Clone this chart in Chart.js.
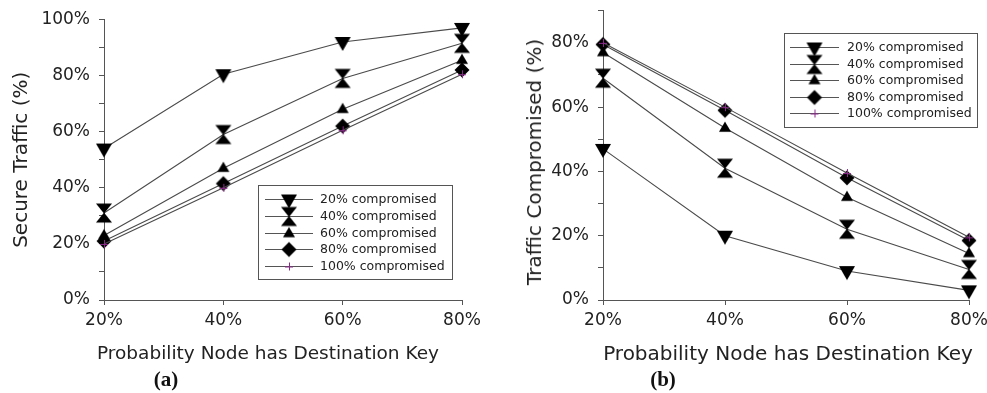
<!DOCTYPE html>
<html>
<head>
<meta charset="utf-8">
<script src="https://cdn.jsdelivr.net/npm/chart.js@4.4.1/dist/chart.umd.min.js"></script>
<style>
  html, body { margin: 0; padding: 0; background: #fff; }
  #fig { position: relative; width: 987px; height: 393px; overflow: hidden; background: #fff; }
  .panel { position: absolute; top: 0; height: 375px; }
  .xtitle { position: absolute; top: 341px; font: 18.5px "DejaVu Sans", sans-serif; color: #222; transform: translateX(-50%); white-space: nowrap; line-height: 24px; }
  .ytitle { position: absolute; font: 20px "DejaVu Sans", sans-serif; color: #222; transform: translate(-50%, -50%) rotate(-90deg); white-space: nowrap; line-height: 24px; }
  .cap { position: absolute; top: 366px; font: bold 21px "Liberation Serif", "Times New Roman", serif; color: #111; transform: translateX(-50%); white-space: nowrap; line-height: 26px; }
</style>
</head>
<body>
<div id="fig">
  <div class="panel" style="left:0; width:490px;"><canvas id="chartA"></canvas></div>
  <div class="panel" style="left:490px; width:497px;"><canvas id="chartB"></canvas></div>
  <div class="xtitle" style="left:268px;">Probability Node has Destination Key</div>
  <div class="xtitle" style="left:788px; font-size:20px;">Probability Node has Destination Key</div>
  <div class="ytitle" style="left:534px; top:162px;">Traffic Compromised (%)</div>
  <div class="cap" style="left:166px;">(a)</div>
  <div class="cap" style="left:663px;">(b)</div>
</div>
<script>
// Probability that a node holds the destination key (x axis)
const probLabels = ['20%', '40%', '60%', '80%'];

// Fraction of nodes compromised (one line per level)
const seriesNames = ['20% compromised', '40% compromised', '60% compromised', '80% compromised', '100% compromised'];

// (a) Secure traffic (%)
const secure20  = [54, 80.5, 92, 97];
const secure40  = [31, 59, 79, 91.5];
const secure60  = [23, 47, 68, 85.5];
const secure80  = [21, 41.5, 62, 82];
const secure100 = [20, 40, 60.5, 80.5];

// (b) Traffic compromised (%)
const comp20  = [47, 20, 9, 3];
const comp40  = [69, 41, 22, 9.5];
const comp60  = [77, 53.5, 32, 14.5];
const comp80  = [79.5, 59, 38, 18.5];
const comp100 = [80, 60, 39.5, 19.5];

// Y tick marks every 10%, labels every 20%
const yTickStep = 10;
const yLabelEvery = 20;

// ---- point markers drawn onto small canvases ----
function markerCanvas(size, draw) {
  const c = document.createElement('canvas');
  c.width = size; c.height = size;
  const g = c.getContext('2d');
  g.translate(size / 2, size / 2);
  draw(g);
  return c;
}
const markTriDown = markerCanvas(20, g => {
  g.fillStyle = '#000';
  g.beginPath(); g.moveTo(-8, -5); g.lineTo(8, -5); g.lineTo(0, 9); g.closePath(); g.fill();
});
const markHourglass = markerCanvas(22, g => {
  g.fillStyle = '#000';
  g.beginPath(); g.moveTo(-8, -9.5); g.lineTo(8, -9.5); g.lineTo(0, 0.6); g.closePath(); g.fill();
  g.beginPath(); g.moveTo(-8, 9.5); g.lineTo(8, 9.5); g.lineTo(0, -0.6); g.closePath(); g.fill();
});
const markTriUp = markerCanvas(16, g => {
  g.fillStyle = '#000';
  g.beginPath(); g.moveTo(-6, 3.8); g.lineTo(6, 3.8); g.lineTo(0, -6.6); g.closePath(); g.fill();
});
const markDiamond = markerCanvas(18, g => {
  g.fillStyle = '#000';
  g.beginPath(); g.moveTo(0, -7.5); g.lineTo(7.5, 0); g.lineTo(0, 7.5); g.lineTo(-7.5, 0); g.closePath(); g.fill();
});
const markCross = markerCanvas(12, g => {
  g.strokeStyle = '#8a2a8a'; g.lineWidth = 1;
  g.beginPath(); g.moveTo(-4, 0.5); g.lineTo(4, 0.5); g.moveTo(0.5, -4); g.lineTo(0.5, 4); g.stroke();
});
const markers = [markTriDown, markHourglass, markTriUp, markDiamond, markCross];

// ---- boxed legend: line sample with marker, then label ----
const boxLegend = {
  id: 'boxLegend',
  afterDatasetsDraw(chart, args, o) {
    if (!o || !o.w) return;
    const ctx = chart.ctx;
    ctx.save();
    ctx.fillStyle = '#fff';
    ctx.fillRect(o.x, o.y, o.w, o.h);
    ctx.strokeStyle = '#555';
    ctx.lineWidth = 1;
    ctx.strokeRect(o.x + 0.5, o.y + 0.5, o.w, o.h);
    ctx.font = '12.5px "DejaVu Sans", sans-serif';
    ctx.textBaseline = 'middle';
    chart.data.datasets.forEach((ds, i) => {
      const y = Math.round(o.row0 + i * o.gap);
      ctx.strokeStyle = '#555';
      ctx.beginPath();
      ctx.moveTo(o.lineX0, y + 0.5);
      ctx.lineTo(o.lineX1, y + 0.5);
      ctx.stroke();
      const m = ds.pointStyle;
      ctx.drawImage(m, (o.lineX0 + o.lineX1) / 2 - m.width / 2, y + 0.5 - m.height / 2);
      ctx.fillStyle = '#222';
      ctx.fillText(ds.label, o.textX, y + 1);
    });
    ctx.restore();
  }
};

function makeChart(canvasId, values, cfg) {
  const datasets = values.map((vals, i) => ({
    label: seriesNames[i],
    data: vals,
    borderColor: '#4a4a4a',
    borderWidth: 1.1,
    pointStyle: markers[i],
    pointRadius: 6,
    pointHoverRadius: 6,
    tension: 0,
    fill: false,
    clip: false,
    order: values.length - 1 - i
  }));
  return new Chart(document.getElementById(canvasId), {
    type: 'line',
    data: { labels: probLabels, datasets },
    plugins: [boxLegend],
    options: {
      responsive: true,
      maintainAspectRatio: false,
      animation: false,
      events: [],
      layout: { padding: { left: 0, top: cfg.top, right: cfg.right, bottom: 5 } },
      plugins: {
        legend: { display: false },
        tooltip: { enabled: false },
        boxLegend: cfg.legend
      },
      scales: {
        x: {
          type: 'category',
          offset: false,
          grid: { display: true, drawOnChartArea: false, drawTicks: true, tickLength: 5, color: '#555' },
          border: { display: true, color: '#555', width: 1 },
          ticks: { color: '#222', font: { family: 'DejaVu Sans', size: 17 }, padding: 5, maxRotation: 0, autoSkip: false },
          afterFit(s) { s.height = 70; s.paddingLeft = 0; s.paddingRight = 0; }
        },
        y: {
          min: 0,
          max: cfg.ymax,
          grid: { display: true, drawOnChartArea: false, drawTicks: true, tickLength: 5, color: '#555' },
          border: { display: true, color: '#555', width: 1 },
          ticks: {
            stepSize: yTickStep,
            color: '#222',
            padding: 9,
            font: { family: 'DejaVu Sans', size: 17 },
            callback: v => (v % yLabelEvery === 0 ? v + '%' : '')
          },
          title: { display: !!cfg.yTitle, text: cfg.yTitle || '', color: '#222',
                   font: { family: 'DejaVu Sans', size: 20 }, padding: { top: cfg.yTitlePad, bottom: 0 } },
          afterFit(s) { s.width = cfg.yWidth; s.paddingTop = 0; s.paddingBottom = 0; }
        }
      }
    }
  });
}

makeChart('chartA', [secure20, secure40, secure60, secure80, secure100], {
  yTitle: 'Secure Traffic (%)',
  ymax: 100,
  top: 19.5,
  right: 28,
  yWidth: 104,
  yTitlePad: 10,
  legend: { x: 258, y: 185, w: 194, h: 94, row0: 199, gap: 16.75, lineX0: 265, lineX1: 313, textX: 320 }
});

makeChart('chartB', [comp20, comp40, comp60, comp80, comp100], {
  yTitle: null,
  ymax: 90,
  top: 10.7,
  right: 18,
  yWidth: 113,
  yTitlePad: 0,
  legend: { x: 294, y: 33, w: 193, h: 94, row0: 47, gap: 16.5, lineX0: 300, lineX1: 349, textX: 357 }
});
</script>
</body>
</html>
